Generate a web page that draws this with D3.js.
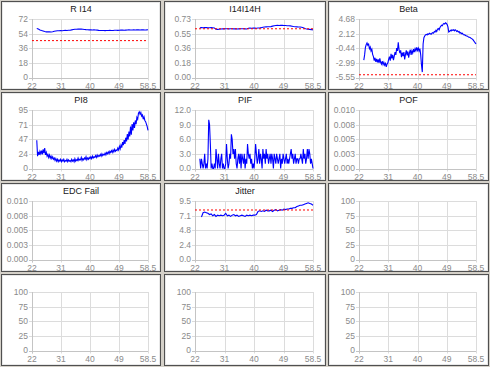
<!DOCTYPE html>
<html><head><meta charset="utf-8">
<script src="https://cdn.jsdelivr.net/npm/d3@7"></script>
<style>body{margin:0;background:#d4d0c8;} svg{display:block}</style>
</head><body><svg id="c" width="490" height="367"></svg>
<script>
// ---- data ----
const xDomain = [22, 58.5];
const xTickLabels = ["22", "31", "40", "49", "58.5"];
const titles = ["R I14", "I14I14H", "Beta", "PI8", "PIF", "POF", "EDC Fail", "Jitter", "", "", "", ""];
const yDomains = [[0,72],[0,0.73],[-5.55,4.68],[0,95],[0,12],[0,0.01],[0,0.01],[0,9.5],[0,100],[0,100],[0,100],[0,100]];
const yTickLabels = [
  ["0","18","36","54","72"],
  ["0.00","0.18","0.36","0.55","0.73"],
  ["-5.55","-2.99","-0.44","2.12","4.68"],
  ["0","24","47","71","95"],
  ["0.0","3.0","6.0","9.0","12.0"],
  ["0.000","0.003","0.005","0.008","0.010"],
  ["0.000","0.003","0.005","0.008","0.010"],
  ["0.0","2.4","4.8","7.1","9.5"],
  ["0","25","50","75","100"],
  ["0","25","50","75","100"],
  ["0","25","50","75","100"],
  ["0","25","50","75","100"]
];
const limits = [45.4, 0.608, -5.07, null, null, null, null, 8.04, null, null, null, null];

// sampled series: start x, step, values
const rI14Start = 23.5, rI14Step = 0.5;
const rI14 = [60.3,59.6,58.6,57.8,57.2,56.6,56.2,56.1,56.2,56.0,56.4,56.9,57.2,57.5,57.6,57.7,57.6,57.8,58.0,57.9,58.1,58.2,58.6,59.0,59.3,59.4,59.5,59.6,59.5,59.3,59.1,58.9,58.8,58.6,58.7,58.5,58.6,58.4,58.3,58.0,57.9,57.8,57.9,57.7,57.8,57.9,58.0,57.8,57.9,58.1,58.2,58.0,58.1,58.3,58.4,58.2,58.3,58.4,58.6,58.4,58.5,58.6,58.5,58.7,58.6,58.5,58.6,58.7,58.5,58.6,58.8];

const i14hStart = 23.5, i14hStep = 0.5;
const i14h = [0.620,0.622,0.621,0.623,0.622,0.620,0.621,0.622,0.620,0.618,0.603,0.601,0.602,0.606,0.608,0.607,0.609,0.608,0.607,0.608,0.609,0.607,0.608,0.606,0.607,0.608,0.609,0.608,0.607,0.606,0.614,0.616,0.615,0.617,0.616,0.615,0.617,0.618,0.622,0.628,0.630,0.632,0.634,0.633,0.635,0.641,0.645,0.648,0.650,0.649,0.651,0.650,0.649,0.648,0.646,0.645,0.644,0.640,0.636,0.634,0.632,0.630,0.631,0.628,0.622,0.612,0.605,0.602,0.600,0.598,0.594];

const betaStart = 23.5, betaStep = 0.25;
const beta = [-2.5,-1.6,-0.3,0.2,0.5,0.1,0.3,-0.5,-0.2,-0.9,-0.6,-1.5,-1.9,-2.6,-2.1,-2.8,-2.3,-2.9,-2.4,-3.0,
  -2.2,-2.9,-3.2,-2.7,-3.3,-2.9,-3.4,-3.1,-3.7,-3.2,-3.0,-2.4,-1.9,-2.6,-1.4,-2.2,-1.6,-2.5,-1.8,-1.1,
  -1.6,-0.4,-0.9,0.6,-0.7,-1.3,-0.8,-2.0,-1.2,-1.8,-1.1,-2.4,-1.5,-0.8,-1.7,-1.0,-2.1,-1.2,-0.7,-1.6,
  -0.9,-1.3,-0.6,-1.1,-0.5,-0.9,-0.3,-0.8,-0.4,-0.9,-0.5,-1.6,-3.4,-4.6,0.3,1.4,1.7,1.9,2.0,1.9,
  2.1,2.0,2.2,2.1,2.0,2.2,2.3,2.2,2.5,2.4,2.7,2.5,2.9,3.0,2.8,3.2,3.4,3.6,3.5,3.8,
  3.9,3.8,4.0,3.9,3.7,3.3,2.4,2.5,2.7,2.6,2.8,2.7,2.8,2.6,2.8,2.7,2.5,2.6,2.4,2.5,
  2.2,2.3,2.1,2.2,2.0,1.9,1.9,1.8,1.7,1.7,1.6,1.5,1.5,1.4,1.3,1.2,1.1,0.9,0.7,0.5,0.3];

const pi8Start = 23.5, pi8Step = 0.25;
const pi8 = [46,20,27,22,28,24,29,23,31,25,33,22,26,20,23,18,22,17,20,16,
  19,15,17,13,16,12,15,11,14,12,15,11,14,12,15,11,13,12,15,11,
  14,12,13,11,15,12,14,11,16,12,14,13,17,13,15,14,18,13,16,14,
  17,15,19,14,17,15,18,16,19,16,20,17,19,18,21,18,22,19,21,20,
  23,20,24,21,23,22,25,22,26,24,27,24,28,26,29,26,30,27,31,28,
  30,29,33,30,36,32,38,34,43,38,46,40,50,44,56,47,60,52,68,55,
  72,62,75,66,78,72,83,80,90,92,88,91,85,87,80,84,78,76,72,68,62];

const pifStart = 23.5, pifStep = 0.25;
const pif = [2,0,2,1,0,1,3,0,1,0,2,10,9,5,0,1,0,0,1,0,
  4,2,0,3,1,0,2,3,0,1,0,0,1,5,2,0,1,3,2,7,
  6,3,4,2,4,1,0,2,3,1,3,0,3,2,1,3,0,2,1,5,
  3,2,3,1,2,0,1,0,2,5,3,1,2,4,1,3,2,0,4,2,
  3,1,4,2,3,1,2,3,1,3,2,0,3,2,1,3,2,1,2,3,
  0,2,1,3,2,1,2,3,1,2,1,2,3,4,2,3,1,2,3,1,
  2,2,1,2,2,3,2,1,4,2,3,1,2,4,2,4,3,1,2,1,0];

const jitterStart = 24, jitterStep = 0.5;
const jitter = [6.9,7.6,7.7,7.6,7.5,7.3,7.4,7.1,7.3,7.0,7.2,7.1,7.2,7.1,7.2,7.5,7.1,7.2,7.0,7.2,
  7.3,7.1,7.2,7.0,7.1,7.2,7.1,7.0,7.2,7.1,7.2,7.1,7.2,7.2,7.3,7.8,7.9,7.8,7.9,7.8,
  8.0,7.9,7.9,8.0,7.8,8.0,8.1,7.9,8.0,8.1,8.0,8.2,8.1,8.2,8.2,8.3,8.3,8.4,8.4,8.6,
  8.7,8.8,8.8,8.9,9.0,9.1,9.2,9.1,9.0,8.8];

const seriesByPanel = {
  0: {start: rI14Start, step: rI14Step, values: rI14},
  1: {start: i14hStart, step: i14hStep, values: i14h},
  2: {start: betaStart, step: betaStep, values: beta},
  3: {start: pi8Start, step: pi8Step, values: pi8},
  4: {start: pifStart, step: pifStep, values: pif},
  7: {start: jitterStart, step: jitterStep, values: jitter}
};

// ---- layout ----
const colLefts = [1, 164, 328];
const colWidths = [160, 162, 161];
const rowTops = [1, 92, 183, 274];
const rowHeights = [89, 89, 89, 92];

const svg = d3.select("#c");
svg.append("rect").attr("width", 490).attr("height", 367).attr("fill", "#d4d0c8");

const FONT = "'Liberation Sans', Arial, sans-serif";

titles.forEach((title, i) => {
  const col = i % 3, row = Math.floor(i / 3);
  const L = colLefts[col], T = rowTops[row], W = colWidths[col], H = rowHeights[row];
  const g = svg.append("g").attr("transform", `translate(${L},${T})`);
  g.append("rect").attr("x", 0.5).attr("y", 0.5).attr("width", W - 1).attr("height", H - 1)
    .attr("fill", "#ffffff").attr("stroke", "#505050").attr("stroke-width", 1);
  g.append("rect").attr("x", 1.5).attr("y", 1.5).attr("width", W - 3).attr("height", H - 3)
    .attr("fill", "none").attr("stroke", "#e8e8e8").attr("stroke-width", 1);

  const x = d3.scaleLinear().domain(xDomain).range([31, W - 13]);
  const yd = yDomains[i];
  const y = d3.scaleLinear().domain(yd).range([76.5, 18]);

  const xTicks = xTickLabels.map((_, k) => xDomain[0] + k * (xDomain[1] - xDomain[0]) / 4);
  const yTicks = yTickLabels[i].map((_, k) => yd[0] + k * (yd[1] - yd[0]) / 4);

  // grid
  g.append("g").selectAll("line").data(xTicks).join("line")
    .attr("x1", d => Math.round(x(d)) + 0.5).attr("x2", d => Math.round(x(d)) + 0.5)
    .attr("y1", y.range()[1]).attr("y2", y.range()[0] + 3)
    .attr("stroke", "#dcdcdc");
  g.append("g").selectAll("line").data(yTicks).join("line")
    .attr("y1", d => Math.round(y(d)) + 0.5).attr("y2", d => Math.round(y(d)) + 0.5)
    .attr("x1", x.range()[0] - 3).attr("x2", x.range()[1])
    .attr("stroke", "#dcdcdc");
  // axis lines
  g.append("line").attr("x1", Math.round(x.range()[0]) + 0.5).attr("x2", Math.round(x.range()[0]) + 0.5)
    .attr("y1", y.range()[1]).attr("y2", y.range()[0] + 3).attr("stroke", "#c4c4c4");
  g.append("line").attr("x1", x.range()[0] - 3).attr("x2", x.range()[1])
    .attr("y1", Math.round(y.range()[0]) + 0.5).attr("y2", Math.round(y.range()[0]) + 0.5).attr("stroke", "#c4c4c4");

  // tick labels
  g.append("g").selectAll("text").data(yTicks).join("text")
    .attr("x", x.range()[0] - 4).attr("y", d => y(d)).attr("dy", "0.35em")
    .attr("text-anchor", "end").attr("font-family", FONT).attr("font-size", 8.5)
    .attr("fill", "#8a8a8a").text((d, k) => yTickLabels[i][k]);
  g.append("g").selectAll("text").data(xTicks).join("text")
    .attr("x", d => x(d)).attr("y", y.range()[0] + 8.5).attr("dy", "0.35em")
    .attr("text-anchor", "middle").attr("font-family", FONT).attr("font-size", 8.5)
    .attr("fill", "#8a8a8a").text((d, k) => xTickLabels[k]);

  if (title) {
    g.append("text").attr("x", W / 2).attr("y", 8).attr("dy", "0.35em")
      .attr("text-anchor", "middle").attr("font-family", FONT).attr("font-size", 9)
      .attr("fill", "#202020").text(title);
  }

  const s = seriesByPanel[i];
  if (s) {
    const pts = s.values.map((v, k) => [s.start + k * s.step, v]);
    g.append("path").datum(pts)
      .attr("d", d3.line().x(d => x(d[0])).y(d => y(d[1])))
      .attr("fill", "none").attr("stroke", "#0000ff").attr("stroke-width", 1.1);
  }
  if (limits[i] !== null) {
    g.append("line").attr("x1", x(xDomain[0])).attr("x2", x(xDomain[1]))
      .attr("y1", y(limits[i])).attr("y2", y(limits[i]))
      .attr("stroke", "#ff0000").attr("stroke-width", 1).attr("stroke-dasharray", "2,2");
  }
});
</script>
</body></html>
